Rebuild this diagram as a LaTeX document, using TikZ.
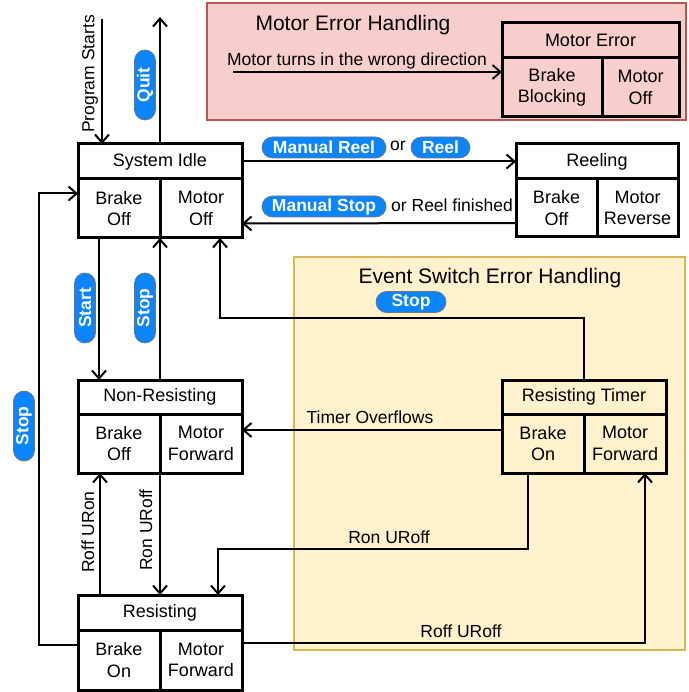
\documentclass[tikz,border=0pt]{standalone}
\usepackage{fontspec}
\setmainfont{Liberation Sans}
\usepackage{tikz}
\usetikzlibrary{arrows.meta}
\definecolor{pillblue}{RGB}{10,132,255}
\definecolor{errfill}{RGB}{248,206,204}
\definecolor{errline}{RGB}{184,84,80}
\definecolor{evtfill}{RGB}{255,242,204}
\definecolor{evtline}{RGB}{214,182,86}
\tikzset{
  box/.style={draw, line width=3pt, inner sep=0pt, outer sep=0pt, align=center, anchor=north west,
    font=\fontsize{18}{21.5}\selectfont},
  title/.style={box, minimum height=35pt},
  cell/.style={box, minimum height=59pt},
  pill/.style={fill=pillblue, draw=black!55, line width=0.7pt, rounded corners=10.5pt, text=white,
    font=\fontsize{17.5}{21}\selectfont\bfseries, minimum height=21pt, inner xsep=10pt, inner ysep=0pt},
  flow/.style={-{Straight Barb[length=8pt,width=14pt]}, line width=2pt},
  group/.style={line width=2pt},
  grouptitle/.style={font=\fontsize{21}{25}\selectfont}
}
\begin{document}
\begin{tikzpicture}[x=1pt, y=-1pt, font=\fontsize{17.5}{21}\selectfont]
        \useasboundingbox (0,0) rectangle (688,692);
        \draw[group, fill=errfill, draw=errline] (207,3) rectangle (686,120);
        \draw[group, fill=evtfill, draw=evtline] (294,257) rectangle (685,650);
        \node[grouptitle] (lblerr) at (353,25) {Motor Error Handling};
        \node[grouptitle] (lblevt) at (490,278) {Event Switch Error Handling};

        \node[title, minimum width=164pt] (idle) at (78,144) {System Idle};
        \node[cell, minimum width=82pt] (idleB) at (idle.south west) {Brake\\Off};
        \node[cell, minimum width=82pt] (idleM) at (idleB.north east) {Motor\\Off};

        \node[title, minimum width=162pt] (reel) at (516,144) {Reeling};
        \node[cell, minimum width=81pt, minimum height=58pt] (reelB) at (reel.south west) {Brake\\Off};
        \node[cell, minimum width=81pt, minimum height=58pt] (reelM) at (reelB.north east) {Motor\\Reverse};

        \node[title, minimum width=177pt] (err) at (502,23) {Motor Error};
        \node[cell, minimum width=100pt] (errB) at (err.south west) {Brake\\Blocking};
        \node[cell, minimum width=77pt] (errM) at (errB.north east) {Motor\\Off};

        \node[title, minimum width=164pt, minimum height=34pt] (nonres) at (78,380) {Non-Resisting};
        \node[cell, minimum width=82pt] (nonresB) at (nonres.south west) {Brake\\Off};
        \node[cell, minimum width=82pt] (nonresM) at (nonresB.north east) {Motor\\Forward};

        \node[title, minimum width=164pt, minimum height=34pt] (timer) at (502,380) {Resisting Timer};
        \node[cell, minimum width=82pt] (timerB) at (timer.south west) {Brake\\On};
        \node[cell, minimum width=82pt] (timerM) at (timerB.north east) {Motor\\Forward};

        \node[title, minimum width=164pt] (res) at (78,595) {Resisting};
        \node[cell, minimum width=82pt, minimum height=60pt] (resB) at (res.south west) {Brake\\On};
        \node[cell, minimum width=82pt, minimum height=60pt] (resM) at (resB.north east) {Motor\\Forward};

        \coordinate (prog) at (102,19);
        \draw[flow] (prog) -- (prog |- idle.north);
        \node[rotate=90] (lblprog) at (90,74) {Program Starts};
        \coordinate (quit) at (160,17);
        \draw[flow] (idle.north) -- (quit);
        \node[pill, rotate=90, minimum width=70pt] (pquit) at (145,85) {Quit};

        \coordinate (mt) at (233,72);
        \draw[flow] (mt) -- (mt -| errB.west);
        \node (lblmt) at (357,61) {Motor turns in the wrong direction};

        \draw[flow] (idle.east) -- (reel.west);
        \node[pill, minimum width=124pt] (pmreel) at (324,147.5) {Manual Reel};
        \node (lblor) at (398,146) {or};
        \node[pill, minimum width=59pt] (preel) at (440.5,147.5) {Reel};
        \draw[flow] ([yshift=-15pt]reelB.west) -- ([yshift=-15pt]idleM.east);
        \node[pill, minimum width=124pt] (pmstop) at (324,206.5) {Manual Stop};
        \node (lblfin) at (452,205.5) {or Reel finished};

        \draw[flow] ([xshift=-20pt]idleB.south) -- ([xshift=-20pt]idleB.south |- nonres.north);
        \node[pill, rotate=90, minimum width=70pt] (pstart) at (85,308) {Start};
        \draw[flow] (nonres.north) -- (nonres.north |- idleM.south);
        \node[pill, rotate=90, minimum width=70pt] (pstop) at (145,308) {Stop};

        \coordinate (bend) at (220,318);
        \draw[flow] (timer.north) |- (bend) -- (bend |- idleM.south);
        \node[pill, minimum width=70pt] (pstopt) at (411,302) {Stop};

        \draw[flow] ([yshift=15pt]resB.west) -- +(-39,0) |- ([yshift=15pt]idleB.west);
        \node[pill, rotate=90, minimum width=70pt] (pstopl) at (24,426) {Stop};

        \draw[flow] ([yshift=13.5pt]timerB.west) -- ([yshift=13.5pt]nonresM.east);
        \node (lblover) at (370,417) {Timer Overflows};

        \draw[flow] ([xshift=22pt]res.north west) -- ([xshift=22pt]nonresB.south west);
        \node[rotate=90] (lblrur) at (88,532) {Roff URon};
        \draw[flow] (nonresB.south east) -- (res.north);
        \node[rotate=90] (lblrur2) at (146,530) {Ron URoff};

        \coordinate (rb) at (218,549);
        \draw[flow] ([xshift=-15pt]timerB.south) |- (rb) -- (rb |- res.north);
        \node (lblron) at (389,537) {Ron URoff};
        \draw[flow] ([yshift=17pt]resM.east) -| ([xshift=20pt]timerM.south);
        \node (lblroff) at (461,631) {Roff URoff};
      \end{tikzpicture}
\end{document}
